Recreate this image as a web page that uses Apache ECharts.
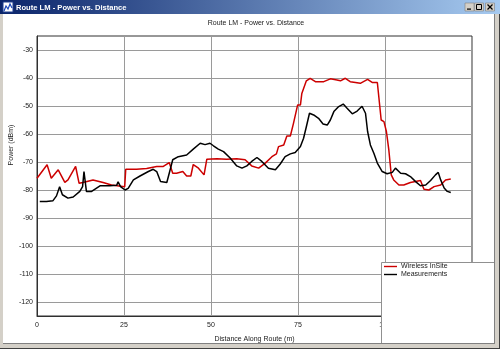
<!DOCTYPE html>
<html>
<head>
<meta charset="utf-8">
<script src="https://cdn.jsdelivr.net/npm/echarts@6.0.0/dist/echarts.min.js"></script>
<style>
  html, body { margin: 0; padding: 0; background: #ffffff; }
  #chart { width: 500px; height: 349px; }
</style>
</head>
<body>
<div id="chart"></div>
<script>
// Route LM: predicted (Wireless InSite) and measured received power along the route
const windowTitle = 'Route LM - Power vs. Distance';
const chartTitle = 'Route LM - Power vs. Distance';
const xAxisName = 'Distance Along Route (m)';
const yAxisName = 'Power (dBm)';
const seriesNames = ['Wireless InSite', 'Measurements'];

const xTicks = [0, 25, 50, 75, 100, 125];
const yTicks = [-120, -110, -100, -90, -80, -70, -60, -50, -40, -30];

// Wireless InSite prediction
const insiteDistance = [0, 2.9, 4.1, 6.1, 8.0, 8.9, 11.1, 12.1, 13.2, 16.1, 19.0, 21.4, 25.2, 25.5, 28.6, 31.5, 34.4, 36.3, 38.0, 39.0, 40.1, 41.9, 43.0, 44.2, 44.9, 46.4, 48.0, 48.8, 51.7, 54.5, 57.4, 59.8, 61.7, 63.7, 65.6, 67.5, 68.8, 69.4, 70.9, 71.8, 72.8, 73.7, 74.9, 75.7, 76.1, 77.4, 78.5, 80.0, 82.4, 84.3, 86.2, 87.2, 88.6, 90.0, 91.5, 92.9, 95.0, 96.3, 97.8, 98.9, 99.7, 100.4, 101.1, 101.8, 102.5, 104.0, 105.4, 107.3, 110.2, 111.2, 112.6, 114.1, 116.0, 117.4, 118.9];
const insitePower = [-75.8, -71.0, -75.8, -72.8, -77.3, -76.4, -71.6, -77.6, -77.3, -76.4, -77.3, -78.2, -78.8, -72.6, -72.6, -72.3, -71.6, -71.6, -70.2, -74.0, -74.0, -73.4, -75.0, -75.0, -70.9, -72.2, -74.6, -69.0, -68.8, -69.0, -68.8, -69.2, -71.4, -72.2, -70.4, -68.1, -67.1, -64.5, -63.9, -60.7, -60.7, -56.2, -49.6, -49.6, -45.5, -41.0, -40.1, -41.3, -41.3, -40.3, -40.7, -41.0, -40.1, -41.3, -41.6, -41.9, -40.5, -41.6, -41.6, -55.0, -55.6, -59.1, -65.7, -74.6, -76.4, -78.2, -78.2, -77.3, -76.6, -79.7, -80.0, -78.8, -78.2, -76.4, -76.1];

// Field measurements
const measuredDistance = [0.8, 2.7, 4.6, 5.6, 6.5, 7.3, 8.9, 10.4, 12.3, 13.1, 13.5, 14.2, 15.7, 18.1, 20.9, 22.9, 23.3, 24.0, 25.3, 26.2, 27.7, 29.6, 32.0, 33.4, 34.4, 35.5, 37.3, 38.0, 39.0, 40.6, 43.0, 44.9, 46.9, 48.3, 49.7, 50.7, 52.1, 53.6, 55.5, 57.4, 58.9, 60.3, 61.7, 63.2, 64.6, 66.5, 68.5, 69.9, 71.3, 72.8, 74.2, 75.7, 76.6, 77.4, 78.3, 79.5, 80.9, 82.2, 83.4, 84.3, 85.3, 86.7, 88.0, 89.1, 90.6, 92.0, 93.4, 94.4, 95.0, 95.8, 96.8, 97.8, 99.2, 100.6, 102.1, 103.0, 104.5, 105.9, 107.3, 108.8, 110.2, 111.7, 113.1, 114.5, 115.3, 116.0, 117.0, 117.9, 118.9];
const measuredPower = [-84.1, -84.1, -83.8, -82.1, -78.8, -81.7, -82.9, -82.5, -80.5, -78.8, -73.4, -80.5, -80.5, -78.5, -78.5, -78.3, -77.1, -78.8, -80.0, -79.4, -76.4, -75.0, -73.4, -72.6, -73.4, -77.0, -77.3, -74.0, -69.2, -68.1, -67.5, -65.4, -63.3, -63.8, -63.3, -64.2, -65.4, -66.3, -68.6, -71.4, -72.2, -71.4, -69.8, -68.4, -69.8, -72.2, -72.8, -70.7, -68.1, -67.1, -66.6, -64.5, -61.5, -57.4, -52.6, -53.2, -54.4, -56.4, -56.8, -55.0, -52.0, -50.2, -49.3, -50.8, -52.8, -51.8, -50.1, -52.6, -59.1, -63.9, -66.9, -70.4, -73.4, -74.2, -73.7, -72.2, -74.0, -74.2, -75.2, -77.0, -78.5, -78.2, -76.6, -74.6, -73.7, -76.4, -79.3, -80.5, -80.9];

const zip = (xs, ys) => xs.map((x, i) => [x, ys[i]]);

const FONT = '"Liberation Sans", Arial, sans-serif';
const chart = echarts.init(document.getElementById('chart'), null, { renderer: 'canvas' });

const frameGray = '#d4d0c8';
const shadowGray = '#808080';
const darkGray = '#404040';

// Window chrome: title bar, caption buttons and frame
const chrome = [
  // title bar
  { type: 'rect', z: 50, shape: { x: 0, y: 0, width: 500, height: 14 },
    style: { fill: new echarts.graphic.LinearGradient(0, 0, 1, 0, [
      { offset: 0, color: '#0a246a' }, { offset: 1, color: '#a6caf0' }]) } },
  // window icon
  { type: 'rect', z: 51, shape: { x: 3, y: 2, width: 10, height: 10 },
    style: { fill: '#ffffff', stroke: '#1c3c8c', lineWidth: 1 } },
  { type: 'polyline', z: 52, shape: { points: [[4, 11], [6, 6], [8, 9], [10, 4], [12, 8]] },
    style: { stroke: '#1a47b8', lineWidth: 1.2, fill: null } },
  { type: 'text', z: 52, x: 16, y: 7.5,
    style: { text: windowTitle, fill: '#ffffff', font: 'bold 7.6px ' + FONT, verticalAlign: 'middle' } },
  // caption buttons
  { type: 'rect', z: 51, shape: { x: 465, y: 3, width: 9, height: 8 }, style: { fill: frameGray, stroke: shadowGray, lineWidth: 0.6 } },
  { type: 'rect', z: 52, shape: { x: 467, y: 8.5, width: 4, height: 1.2 }, style: { fill: '#000' } },
  { type: 'rect', z: 51, shape: { x: 474.5, y: 3, width: 9, height: 8 }, style: { fill: frameGray, stroke: shadowGray, lineWidth: 0.6 } },
  { type: 'rect', z: 52, shape: { x: 476.5, y: 4.5, width: 5, height: 5 }, style: { fill: null, stroke: '#000', lineWidth: 1 } },
  { type: 'rect', z: 51, shape: { x: 485.5, y: 3, width: 9, height: 8 }, style: { fill: frameGray, stroke: shadowGray, lineWidth: 0.6 } },
  { type: 'line', z: 52, shape: { x1: 487.5, y1: 4.5, x2: 492.5, y2: 9.5 }, style: { stroke: '#000', lineWidth: 1.2 } },
  { type: 'line', z: 52, shape: { x1: 492.5, y1: 4.5, x2: 487.5, y2: 9.5 }, style: { stroke: '#000', lineWidth: 1.2 } },
  // frame: left, right, bottom
  { type: 'rect', z: 50, shape: { x: 0, y: 14, width: 3, height: 335 }, style: { fill: frameGray } },
  { type: 'rect', z: 50, shape: { x: 494, y: 14, width: 6, height: 335 }, style: { fill: frameGray } },
  { type: 'rect', z: 51, shape: { x: 494, y: 14, width: 1, height: 330 }, style: { fill: shadowGray } },
  { type: 'rect', z: 51, shape: { x: 499, y: 14, width: 1, height: 335 }, style: { fill: darkGray } },
  { type: 'rect', z: 50, shape: { x: 0, y: 343, width: 500, height: 6 }, style: { fill: frameGray } },
  { type: 'rect', z: 51, shape: { x: 3, y: 343, width: 492, height: 1 }, style: { fill: shadowGray } },
  { type: 'rect', z: 51, shape: { x: 0, y: 348, width: 500, height: 1 }, style: { fill: darkGray } },
  // legend panel
  { type: 'rect', z: 20, shape: { x: 381.5, y: 262.5, width: 116, height: 85 },
    style: { fill: '#ffffff', stroke: '#909090', lineWidth: 1 } },
  // chart title and y-axis name
  { type: 'text', z: 10, x: 256, y: 23,
    style: { text: chartTitle, fill: '#202020', font: '7px ' + FONT, align: 'center', verticalAlign: 'middle' } },
  { type: 'text', z: 10, x: 11.5, y: 145, rotation: Math.PI / 2,
    style: { text: yAxisName, fill: '#202020', font: '7px ' + FONT, align: 'center', verticalAlign: 'middle' } }
];

chart.setOption({
  animation: false,
  backgroundColor: '#ffffff',
  textStyle: { fontFamily: FONT },
  graphic: { elements: chrome },
  grid: { left: 37, right: 28, top: 36, bottom: 33, show: true, borderColor: '#303030', borderWidth: 1, containLabel: false },
  legend: {
    z: 30,
    orient: 'vertical',
    left: 384, top: 263,
    padding: 0,
    itemGap: 1,
    itemWidth: 13, itemHeight: 1.4,
    icon: 'rect',
    textStyle: { fontSize: 7, color: '#202020', fontFamily: FONT, padding: [0, 0, 0, -1] },
    data: seriesNames
  },
  xAxis: {
    type: 'value', min: xTicks[0], max: xTicks[xTicks.length - 1], interval: 25,
    name: xAxisName, nameLocation: 'middle', nameGap: 20,
    nameTextStyle: { fontSize: 7, color: '#202020', fontFamily: FONT },
    axisLine: { lineStyle: { color: '#303030', width: 1 } },
    axisTick: { show: false },
    axisLabel: { fontSize: 7, color: '#202020', margin: 6, showMaxLabel: false },
    splitLine: { lineStyle: { color: '#9a9a9a', width: 1 } }
  },
  yAxis: {
    type: 'value', min: -125, max: -25,
    axisLine: { show: true, lineStyle: { color: '#303030', width: 1 } },
    axisTick: { show: false, customValues: yTicks },
    axisLabel: { fontSize: 7, color: '#202020', margin: 4, customValues: yTicks },
    splitLine: { lineStyle: { color: '#9a9a9a', width: 1 } }
  },
  series: [
    { name: seriesNames[0], type: 'line', data: zip(insiteDistance, insitePower),
      showSymbol: false, symbol: 'none', color: '#cc0000',
      lineStyle: { color: '#cc0000', width: 1.5 } },
    { name: seriesNames[1], type: 'line', data: zip(measuredDistance, measuredPower),
      showSymbol: false, symbol: 'none', color: '#000000',
      lineStyle: { color: '#000000', width: 1.5 } }
  ]
});
</script>
</body>
</html>
